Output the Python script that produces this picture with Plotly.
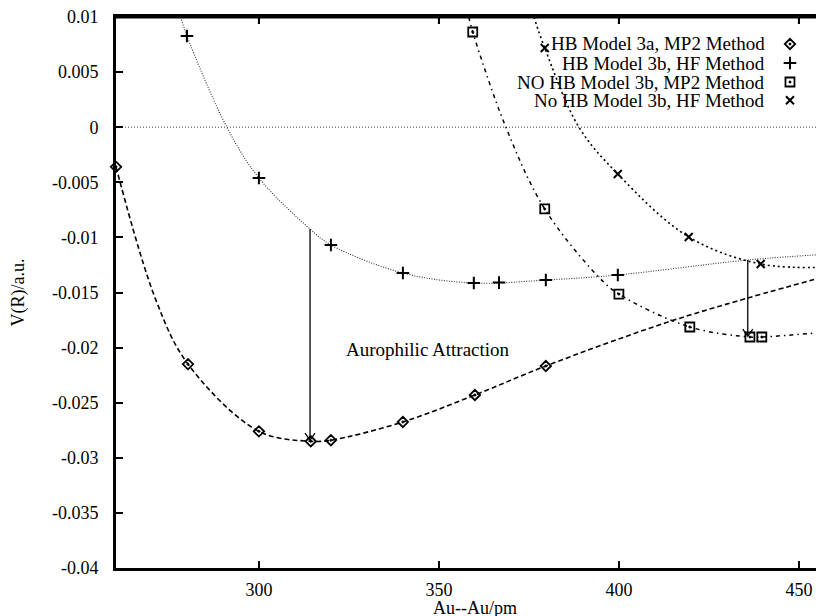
import plotly.graph_objects as go

# ---- data ----
# HB Model 3a, MP2 Method (diamonds)
hb3a_mp2_x = [260.3, 280.3, 300.0, 314.4, 320.0, 340.0, 360.0, 379.7]
hb3a_mp2_y = [-0.0036, -0.0215, -0.0276, -0.0285, -0.0284, -0.02675, -0.0243, -0.02167]
hb3a_mp2_curve_x = [260.3, 271.4, 280.3, 300.0, 314.4, 320.0, 340.0, 360.0, 379.7, 412.8, 435.8, 459.0]
hb3a_mp2_curve_y = [-0.0036, -0.0157, -0.0215, -0.0276, -0.0285, -0.0284, -0.02675, -0.0243, -0.02167, -0.01777, -0.0155, -0.0134]

# HB Model 3b, HF Method (plus)
hb3b_hf_x = [280.0, 300.0, 320.0, 340.0, 359.7, 366.7, 379.7, 399.7]
hb3b_hf_y = [0.00828, -0.00461, -0.01069, -0.01323, -0.01414, -0.0141, -0.01387, -0.01341]
hb3b_hf_curve_x = [278.3, 280.0, 291.1, 300.0, 314.2, 320.0, 340.0, 359.7, 379.7, 399.7, 435.8, 459.0]
hb3b_hf_curve_y = [0.0100, 0.00828, 0.0, -0.00461, -0.00924, -0.01069, -0.01323, -0.01414, -0.01387, -0.01341, -0.01205, -0.0115]

# NO HB Model 3b, MP2 Method (squares)
nohb_mp2_x = [359.4, 379.4, 400.0, 419.7, 436.4, 439.7]
nohb_mp2_y = [0.00864, -0.00742, -0.01514, -0.01813, -0.01904, -0.01904]
nohb_mp2_curve_x = [358.3, 359.4, 368.6, 379.4, 394.4, 400.0, 419.7, 436.4, 439.7, 459.0]
nohb_mp2_curve_y = [0.0100, 0.00864, 0.0, -0.00742, -0.0136, -0.01514, -0.01813, -0.01904, -0.01904, -0.01855]

# No HB Model 3b, HF Method (crosses)
nohb_hf_x = [379.4, 399.7, 419.4, 439.4]
nohb_hf_y = [0.00719, -0.00425, -0.00996, -0.01241]
nohb_hf_curve_x = [376.4, 379.4, 388.9, 399.7, 419.4, 439.4, 459.0]
nohb_hf_curve_y = [0.0100, 0.00719, 0.0, -0.00425, -0.00996, -0.01241, -0.0127]

series_names = ["HB Model 3a, MP2 Method", "HB Model 3b, HF Method",
                "NO HB Model 3b, MP2 Method", "No HB Model 3b, HF Method"]

# arrows (x, top, bottom)
arrow_x = [314.2, 435.8]
arrow_top = [-0.00924, -0.01205]
arrow_bottom = [-0.0284, -0.01895]

x_tickvals = [300, 350, 400, 450]
x_ticktext = ["300", "350", "400", "450"]
y_tickvals = [0.01, 0.005, 0, -0.005, -0.01, -0.015, -0.02, -0.025, -0.03, -0.035, -0.04]
y_ticktext = ["0.01", "0.005", "0", "-0.005", "-0.01", "-0.015", "-0.02", "-0.025", "-0.03", "-0.035", "-0.04"]

FONT = "Liberation Serif"

fig = go.Figure()

curves = [
    (hb3a_mp2_curve_x, hb3a_mp2_curve_y, dict(color="black", width=1.6, dash="5px,3px")),
    (hb3b_hf_curve_x, hb3b_hf_curve_y, dict(color="#333", width=1.1, dash="1px,1.5px")),
    (nohb_mp2_curve_x, nohb_mp2_curve_y, dict(color="black", width=1.5, dash="4px,4px,1.5px,4px")),
    (nohb_hf_curve_x, nohb_hf_curve_y, dict(color="black", width=1.6, dash="2px,3px")),
]
for cx, cy, ln in curves:
    fig.add_trace(go.Scatter(x=cx, y=cy, mode="lines", line=dict(shape="spline", smoothing=1.0, **ln),
                             showlegend=False, hoverinfo="skip", cliponaxis=True))

markers = [
    (hb3a_mp2_x, hb3a_mp2_y, dict(symbol="diamond-open-dot", size=8, color="black", line=dict(width=1.8, color="black"))),
    (hb3b_hf_x, hb3b_hf_y, dict(symbol="cross-thin-open", size=9, color="black", line=dict(width=2, color="black"))),
    (nohb_mp2_x, nohb_mp2_y, dict(symbol="square-open-dot", size=9, color="black", line=dict(width=1.8, color="black"))),
    (nohb_hf_x, nohb_hf_y, dict(symbol="x-thin-open", size=8, color="black", line=dict(width=2, color="black"))),
]
for (mx, my, mk), name in zip(markers, series_names):
    fig.add_trace(go.Scatter(x=mx, y=my, mode="markers", marker=mk, name=name, showlegend=False,
                             cliponaxis=False))

# legend drawn gnuplot-style: right aligned text, symbol on the right
leg_y = [0.951, 0.9165, 0.882, 0.849]
for (mx, my, mk), name, ly in zip(markers, series_names, leg_y):
    fig.add_trace(go.Scatter(x=[0.9413], y=[ly], xaxis="x2", yaxis="y2", mode="markers",
                             marker=mk, showlegend=False, hoverinfo="skip"))
    fig.add_annotation(x=0.9092, y=ly, xref="paper", yref="paper", text=name, showarrow=False,
                       xanchor="right", yanchor="middle", font=dict(family=FONT, size=19, color="black"))

# zero line
fig.add_hline(y=0, line=dict(color="#444", width=1, dash="1px,2px"), layer="below")

# top frame line (gnuplot border) and its ticks
fig.add_shape(type="line", xref="paper", yref="paper", x0=0, x1=1, y0=1, y1=1,
              line=dict(color="black", width=3))
for tv in x_tickvals:
    fig.add_shape(type="line", xref="x", yref="paper", ysizemode="pixel", yanchor=1,
                  x0=tv, x1=tv, y0=0, y1=-7, line=dict(color="black", width=2))

# arrows
for ax_, top, bot in zip(arrow_x, arrow_top, arrow_bottom):
    fig.add_shape(type="line", x0=ax_, x1=ax_, y0=top, y1=bot, line=dict(color="black", width=1.3))
    fig.add_shape(type="path", xsizemode="pixel", ysizemode="pixel", xanchor=ax_, yanchor=bot,
                  path="M -5,7 L 0,0 L 5,7", line=dict(color="black", width=1.3))

fig.add_annotation(x=347.1, y=-0.0202, text="Aurophilic Attraction", showarrow=False,
                   font=dict(family=FONT, size=19, color="black"))

fig.add_annotation(x=0.5014, y=-0.0726, xref="paper", yref="paper", text="Au--Au/pm",
                   showarrow=False, yanchor="middle", font=dict(family=FONT, size=18, color="black"))

fig.update_layout(
    width=824, height=616,
    margin=dict(l=108, r=0, t=9, b=56),
    paper_bgcolor="white", plot_bgcolor="white",
    font=dict(family=FONT, size=18, color="black"),
    showlegend=False,
    xaxis=dict(range=[260.3, 459.2], tickvals=x_tickvals, ticktext=x_ticktext,
               showgrid=False, zeroline=False, showline=True, linewidth=3, linecolor="black",
               mirror="ticks", ticks="inside", ticklen=7, tickwidth=2, tickcolor="black",
               ticklabelstandoff=3, ticklabeloverflow="allow", tickfont=dict(family=FONT, size=18)),
    yaxis=dict(range=[-0.04, 0.01], tickvals=y_tickvals, ticktext=y_ticktext,
               showgrid=False, zeroline=False, showline=True, linewidth=3, linecolor="black",
               ticks="inside", ticklen=7, tickwidth=2, tickcolor="black",
               ticklabelstandoff=11, ticklabeloverflow="allow", tickfont=dict(family=FONT, size=18),
               title=dict(text="V(R)/a.u.", font=dict(family=FONT, size=18), standoff=26)),
    xaxis2=dict(range=[0, 1], overlaying="x", visible=False, fixedrange=True),
    yaxis2=dict(range=[0, 1], overlaying="y", visible=False, fixedrange=True),
)

fig.write_html("out.html")
